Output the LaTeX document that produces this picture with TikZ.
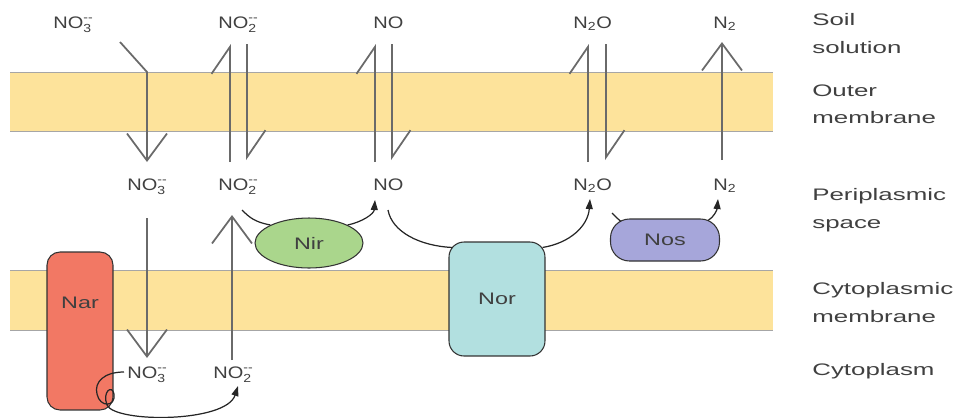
\documentclass[tikz,border=0pt]{standalone}
\usepackage{amsmath}
\usepackage{fontspec}
\setmainfont{Liberation Sans}
\newfontfamily\chemfont[FakeStretch=1.2]{Liberation Sans}
\newfontfamily\sidefont[FakeStretch=1.55]{Liberation Sans}
\newfontfamily\enzfont[FakeStretch=1.4]{Liberation Sans}
\usetikzlibrary{positioning,calc,arrows.meta,shapes.geometric}

\definecolor{membr}{HTML}{FDE39B}
\definecolor{narcol}{HTML}{F27864}
\definecolor{nircol}{HTML}{AAD68C}
\definecolor{norcol}{HTML}{B2E0E0}
\definecolor{noscol}{HTML}{A6A6DA}
\definecolor{txt}{HTML}{404040}
\definecolor{arr}{HTML}{6A6A6A}

\newcommand{\nox}[1]{NO$^{\text{--}}_{\text{#1}}$}

\tikzset{
  chem/.style={font=\chemfont\fontsize{9.5}{11}\selectfont, text=txt, anchor=base west, inner sep=0pt},
  side/.style={font=\sidefont\fontsize{9.5}{15.9}\selectfont, text=txt, anchor=north west, align=left, inner sep=0pt},
  enz/.style={draw=black!80, line width=0.6pt, font=\enzfont\fontsize{9.5}{11}\selectfont, text=txt},
  enzlbl/.style={font=\enzfont\fontsize{9.5}{11}\selectfont, text=txt},
  edge/.style={draw=gray!70, line width=0.5pt},
  tr/.style={draw=arr, line width=1pt},
  vee/.style={-{Straight Barb[length=0.54cm,width=0.8cm]}},
  harp/.style={-{Straight Barb[harpoon,length=0.54cm,width=0.74cm]}},
  rx/.style={draw=black!85, line width=0.7pt, -{Triangle[length=0.2cm,width=0.14cm]}},
}

\begin{document}
\begin{tikzpicture}[x=0.02cm, y=-0.02cm]
  \useasboundingbox (0,0) rectangle (954,417);
  % membranes
  \foreach \t/\b in {72/131, 270/330} {
    \fill[membr] (10,\t) rectangle (773,\b);
    \draw[edge] (10,\t) -- (773,\t) (10,\b) -- (773,\b);
  };
  % side labels
  \node[side] (soil) at (812,13) {Soil\\solution};
  \node[side] (outer) at (812,84) {Outer\\membrane};
  \node[side] (peri) at (812,188) {Periplasmic\\space};
  \node[side] (cmem) at (812,282) {Cytoplasmic\\membrane};
  \node[side] (cyto) at (812,363) {Cytoplasm};
  % species
  \node[chem] (s-no3) at (53,28) {\nox{3}};
  \node[chem] (s-no2) at (218,28) {\nox{2}};
  \node[chem] (s-no) at (373,28) {NO};
  \node[chem] (s-n2o) at (573,28) {N\textsubscript{2}O};
  \node[chem] (s-n2) at (713,28) {N\textsubscript{2}};
  \node[chem] (p-no3) at (127,190) {\nox{3}};
  \node[chem] (p-no2) at (218,190) {\nox{2}};
  \node[chem] (p-no) at (373,190) {NO};
  \node[chem] (p-n2o) at (573,190) {N\textsubscript{2}O};
  \node[chem] (p-n2) at (713,190) {N\textsubscript{2}};
  \node[chem] (c-no3) at (127,378) {\nox{3}};
  \node[chem] (c-no2) at (213,378) {\nox{2}};
  % transport, outer membrane
  \draw[tr, vee] ($(s-no3.base west)+(67,14)$) -- (147,72) -- ($(p-no3.base west)+(20,-28)$);
  \foreach \n/\a/\b in {no2/12/29, no/2/19, n2o/15/33} {
    \draw[tr, harp] ($(p-\n.base west)+(\a,-28)$) -- ($(s-\n.base west)+(\a,16)$);
    \draw[tr, harp] ($(s-\n.base west)+(\b,16)$) -- ($(p-\n.base west)+(\b,-30)$);
  };
  \draw[tr, vee] ($(p-n2.base west)+(9,-30)$) -- ($(s-n2.base west)+(9,14)$);
  % transport, cytoplasmic membrane
  \draw[tr, vee] ($(p-no3.base west)+(20,28)$) -- ($(c-no3.base west)+(20,-20)$);
  \draw[tr, vee] ($(c-no2.base west)+(19,-18)$) -- ($(p-no2.base west)+(14,25)$);
  % enzymes
  \node[enz, fill=narcol, minimum width=1.32cm, minimum height=3.16cm, rounded corners=0.26cm,
        label={[enzlbl, yshift=0.56cm]center:Nar}] (nar) at (80,331) {};
  \node[enz, ellipse, fill=nircol, minimum width=2.16cm, minimum height=1cm, inner sep=0pt] (nir) at (309,243) {Nir};
  \node[enz, fill=norcol, minimum width=1.92cm, minimum height=2.28cm, rounded corners=0.3cm] (nor) at (497,299) {Nor};
  \node[enz, fill=noscol, minimum width=2.18cm, minimum height=0.84cm, rounded corners=0.38cm] (nos) at (665,240) {Nos};
  % reactions
  \draw[rx] ($(p-no2.base west)+(24,20)$) .. controls (250,218) and (255,222) .. (nir.155)
            (nir.25) .. controls (362,222) and (374,214) .. ($(p-no.base west)+(2,10)$);
  \draw[rx] ($(p-no.base west)+(15,20)$) .. controls (392,232) and (420,246) .. ($(nor.north west)+(4,6)$)
            ($(nor.north east)+(-3,6)$) .. controls (570,243) and (588,226) .. ($(p-n2o.base west)+(17,9)$);
  \draw[rx] ($(p-n2o.base west)+(39,23)$) .. controls (616,217) and (619,220) .. ($(nos.north west)+(11,3)$)
            ($(nos.north east)+(-12,2)$) .. controls (714,217) and (717,210) .. ($(p-n2.base west)+(5,9)$);
  \draw[rx] ($(c-no3.base west)+(-3,-6)$) .. controls (104,372) and (94,382) .. (97,394)
            .. controls (100,408) and (116,407) .. (114,394)
            .. controls (112,384) and (102,392) .. (107,405)
            .. controls (115,423) and (226,423) .. ($(c-no2.base west)+(25,8)$);
\end{tikzpicture}
\end{document}
